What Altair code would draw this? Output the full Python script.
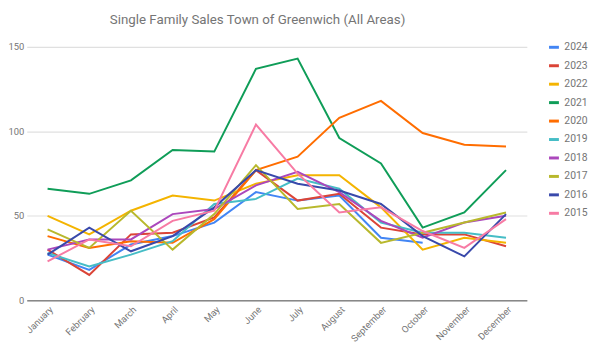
import altair as alt
import pandas as pd

months = ["January", "February", "March", "April", "May", "June", "July",
          "August", "September", "October", "November", "December"]
years = ["2024", "2023", "2022", "2021", "2020", "2019", "2018", "2017", "2016", "2015"]
colors = ["#4285f4", "#db4437", "#f4b400", "#0f9d58", "#ff6d00",
          "#46bdc6", "#ab47bc", "#b8b82c", "#3949ab", "#f77ba4"]

s2024 = [27, 18, 33, 38, 46, 64, 59, 62, 37, 34, None, None]
s2023 = [30, 15, 39, 40, 49, 77, 59, 63, 43, 39, 39, 32]
s2022 = [50, 39, 53, 62, 59, 69, 74, 74, 55, 30, 37, 34]
s2021 = [66, 63, 71, 89, 88, 137, 143, 96, 81, 43, 52, 77]
s2020 = [38, 31, 35, 34, 48, 77, 85, 108, 118, 99, 92, 91]
s2019 = [28, 20, 27, 35, 57, 60, 72, 66, 46, 40, 40, 37]
s2018 = [30, 36, 36, 51, 54, 68, 76, 64, 47, 37, 46, 50]
s2017 = [42, 31, 53, 30, 51, 80, 54, 57, 34, 40, 46, 52]
s2016 = [27, 43, 29, 38, 55, 77, 69, 65, 57, 38, 26, 51]
s2015 = [23, 36, 32, 47, 53, 104, 75, 52, 55, 41, 31, 48]

series = [s2024, s2023, s2022, s2021, s2020, s2019, s2018, s2017, s2016, s2015]

rows = []
for y, vals in zip(years, series):
    for m, v in zip(months, vals):
        if v is not None:
            rows.append({"Month": m, "Year": y, "Sales": v})
df = pd.DataFrame(rows)

gray = "#757575"

chart = alt.Chart(df).mark_line(strokeWidth=2).encode(
    x=alt.X("Month:N", sort=months, title=None,
            scale=alt.Scale(domain=months, paddingInner=0, paddingOuter=0.5),
            axis=alt.Axis(labelAngle=-45, labelFontSize=9.5, labelColor=gray,
                          labelFont="Roboto", ticks=False, domainColor="#888888",
                          domainWidth=1.5, labelPadding=4, grid=False)),
    y=alt.Y("Sales:Q", title=None,
            scale=alt.Scale(domain=[0, 150], nice=False),
            axis=alt.Axis(values=[0, 50, 100, 150], labelFontSize=9.5,
                          labelColor=gray, labelFont="Roboto", ticks=False,
                          domain=False, gridColor="#e0e0e0", gridWidth=1.2,
                          labelPadding=3)),
    color=alt.Color("Year:N", sort=years,
                    scale=alt.Scale(domain=years, range=colors),
                    legend=alt.Legend(title=None, orient="none", legendX=528, legendY=-6,
                                      symbolType="stroke", symbolStrokeWidth=3,
                                      symbolSize=100, labelFontSize=10.5,
                                      labelColor=gray, labelFont="Roboto",
                                      rowPadding=5.7, labelOffset=4)),
    order=alt.Order("Year:N", sort="ascending"),
).properties(
    width=507, height=257,
    title=alt.TitleParams("Single Family Sales Town of Greenwich (All Areas)",
                          fontSize=13.5, color=gray, font="Roboto",
                          fontWeight="normal", anchor="middle", dx=-19.5, offset=15),
    autosize=alt.AutoSizeParams(type="none"),
    padding={"left": 19, "top": 37, "right": 62, "bottom": 45},
).configure_view(stroke=None)

chart.save("out.html", embed_options={"renderer": "svg", "actions": False})
